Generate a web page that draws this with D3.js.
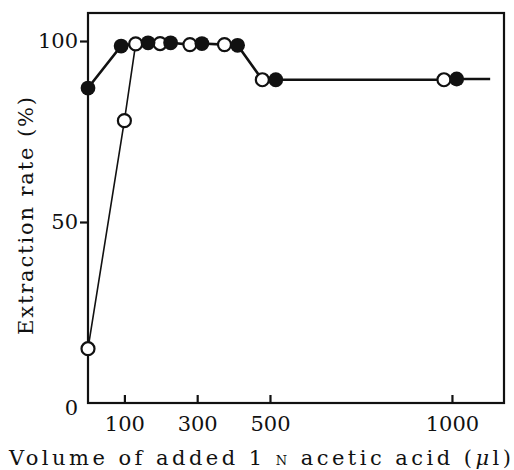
<!DOCTYPE html>
<html>
<head>
<meta charset="utf-8">
<script src="https://cdn.jsdelivr.net/npm/d3@7"></script>
<style>
  body { margin: 0; background: #fff; }
  svg { display: block; }
  text { font-family: "DejaVu Serif", "Liberation Serif", serif; fill: #111; }
</style>
</head>
<body>
<svg id="chart" width="514" height="470"></svg>
<script>
// values (volume in ul, extraction rate in %)
var filledX = [0, 91, 165, 227, 313, 411, 516, 1013];
var filledY = [87, 98.6, 99.5, 99.5, 99.3, 98.8, 89.3, 89.5];
var openX = [0, 100, 131, 198, 280, 375, 479, 978];
var openY = [15, 78, 99.2, 99.3, 99, 99, 89.3, 89.3];
var lineEndX = 1105;        // curve is drawn on past the last point
var xTicks = [100, 300, 500, 1000];
var yTicks = [0, 50, 100];

var svg = d3.select("#chart"),
    mLeft = 88, mRight = 504, mTop = 13, mBottom = 403;

var x = d3.scaleLinear().domain([0, 1143]).range([mLeft, mRight]);
var y = d3.scaleLinear().domain([0, 100]).range([mBottom, 41]);

var filled = filledX.map(function(d, i) { return [d, filledY[i]]; });
var open = openX.map(function(d, i) { return [d, openY[i]]; });

// frame
svg.append("rect")
  .attr("x", mLeft).attr("y", mTop)
  .attr("width", mRight - mLeft).attr("height", mBottom - mTop)
  .attr("fill", "none").attr("stroke", "#111").attr("stroke-width", 2.2);

// axes
var xAxis = svg.append("g")
  .attr("transform", "translate(0," + mBottom + ")")
  .call(d3.axisBottom(x).tickValues(xTicks).tickSize(-8).tickFormat(d3.format("d")));
xAxis.attr("font-family", null).attr("font-size", null);
xAxis.select(".domain").remove();
xAxis.selectAll("line").attr("stroke", "#111").attr("stroke-width", 2.2);
xAxis.selectAll("text").attr("y", 28).attr("dy", null).style("font-size", "21px");

var yAxis = svg.append("g")
  .attr("transform", "translate(" + mLeft + ",0)")
  .call(d3.axisLeft(y).tickValues(yTicks).tickSize(8).tickPadding(2));
yAxis.attr("font-family", null).attr("font-size", null);
yAxis.select(".domain").remove();
yAxis.selectAll("line").attr("stroke", "#111").attr("stroke-width", 2.2);
yAxis.selectAll("text").style("font-size", "21px");
// the "0" has no tick mark and sits a little lower
var zero = yAxis.selectAll(".tick").filter(function(d) { return d === 0; });
zero.select("line").remove();
zero.select("text").attr("dy", "0.55em");

var line = d3.line().x(function(d) { return x(d[0]); }).y(function(d) { return y(d[1]); });

// thin rise of the open series up to the plateau
svg.append("path")
  .attr("d", line(open.slice(0, 3)))
  .attr("fill", "none").attr("stroke", "#111").attr("stroke-width", 1.6);

// one shared curve: filled start, then plateau and drop through both series
var shared = [filled[0]].concat(
  filled.slice(1).concat(open.slice(2)).sort(function(a, b) { return a[0] - b[0]; }),
  [[lineEndX, filledY[filledY.length - 1]]]);
svg.append("path")
  .attr("d", line(shared))
  .attr("fill", "none").attr("stroke", "#111").attr("stroke-width", 2.6);

svg.selectAll(".open").data(open).enter().append("circle")
  .attr("cx", function(d) { return x(d[0]); })
  .attr("cy", function(d) { return y(d[1]); })
  .attr("r", 6.5)
  .attr("fill", "#fff").attr("stroke", "#111").attr("stroke-width", 2.2);

svg.selectAll(".filled").data(filled).enter().append("circle")
  .attr("cx", function(d) { return x(d[0]); })
  .attr("cy", function(d) { return y(d[1]); })
  .attr("r", 7.4)
  .attr("fill", "#111");

// axis titles
var xt = svg.append("text")
  .attr("x", 9).attr("y", 465)
  .attr("textLength", 502).attr("lengthAdjust", "spacing")
  .style("font-size", "21px");
xt.append("tspan").text("Volume of added 1 ");
xt.append("tspan").style("font-size", "13px").text("N");
xt.append("tspan").text(" acetic acid (");
xt.append("tspan").style("font-style", "italic").text("\u03bc");
xt.append("tspan").text("l)");

svg.append("text")
  .attr("transform", "translate(33,335) rotate(-90)")
  .attr("textLength", 238).attr("lengthAdjust", "spacing")
  .style("font-size", "21px")
  .text("Extraction rate (%)");
</script>
</body>
</html>
